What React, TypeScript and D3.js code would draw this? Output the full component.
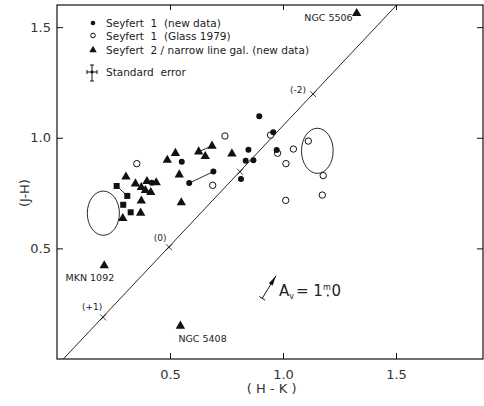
import React, { useRef, useEffect } from "react";
import * as d3 from "d3";

// (H-K), (J-H) pairs
const seyfert1New = [
  [0.895, 1.097], [0.957, 1.025], [0.972, 0.945], [0.847, 0.946],
  [0.835, 0.896], [0.869, 0.898], [0.552, 0.892], [0.692, 0.847],
  [0.585, 0.795], [0.814, 0.814], [0.419, 0.797],
];
// same sample, printed as filled squares
const seyfert1Squares = [
  [0.264, 0.782], [0.311, 0.737], [0.293, 0.697], [0.326, 0.663],
];
const seyfert1Glass = [
  [0.353, 0.883], [0.743, 1.008], [0.689, 0.785], [0.945, 1.012],
  [0.976, 0.93], [1.046, 0.949], [1.013, 0.883], [1.112, 0.985],
  [1.178, 0.829], [1.012, 0.717], [1.174, 0.741],
];
const seyfert2 = [
  [1.326, 1.562], [0.209, 0.422], [0.546, 0.149], [0.488, 0.899],
  [0.524, 0.93], [0.627, 0.937], [0.686, 0.963], [0.656, 0.916],
  [0.774, 0.928], [0.541, 0.833], [0.55, 0.707], [0.305, 0.823],
  [0.347, 0.792], [0.373, 0.776], [0.391, 0.762], [0.398, 0.803],
  [0.415, 0.753], [0.439, 0.797], [0.373, 0.715], [0.37, 0.66],
  [0.291, 0.636],
];
// connecting segments between repeated measurements
const links = [
  [0.264, 0.782, 0.311, 0.737],
  [0.585, 0.795, 0.692, 0.847],
  [0.627, 0.937, 0.686, 0.963],
];
// error ellipses: cx, cy, rx, ry
const ellipses = [
  [0.205, 0.659, 0.071, 0.1],
  [1.152, 0.941, 0.07, 0.102],
];
// named objects: x, y, label
const named = [
  [1.326, 1.562, "NGC 5506"],
  [0.209, 0.422, "MKN 1092"],
  [0.546, 0.149, "NGC 5408"],
];
// power-law line and its marks
const lineHK = [0.028, 1.503];
const lineJH = [0.0, 1.6];
const marksHK = [0.204, 0.496, 0.81, 1.133];
const marksJH = [0.188, 0.505, 0.846, 1.197];
const markLabels = ["(+1)", "(0)", "", "(-2)"];
// reddening vector Av = 1 mag
const avTail = [0.908, 0.274];
const avHead = [0.969, 0.376];

const tickValues = [0.5, 1.0, 1.5];

const W = 484;
const H = 406;
const margin = { top: 5, right: 1, bottom: 47, left: 57 };
const font = "DejaVu Sans, sans-serif";

const App = () => {
  const svgRef = useRef<SVGSVGElement>(null);

  useEffect(() => {
    const svg = d3.select(svgRef.current);
    svg.selectAll("*").remove();

    const width = W - margin.left - margin.right;
    const height = H - margin.top - margin.bottom;

    const x = d3.scaleLinear().domain([0, 1.885]).range([0, width]);
    const y = d3.scaleLinear().domain([0, 1.6]).range([height, 0]);

    const g = svg
      .append("g")
      .attr("transform", `translate(${margin.left},${margin.top})`);

    // frame
    g.append("rect")
      .attr("width", width)
      .attr("height", height)
      .attr("fill", "none")
      .attr("stroke", "#111")
      .attr("stroke-width", 1.2);

    // axes with inward ticks
    const styleAxis = (sel) => {
      sel.select(".domain").remove();
      sel.selectAll("line").attr("stroke", "#111");
      sel
        .selectAll("text")
        .attr("font-family", font)
        .attr("font-size", 13)
        .attr("fill", "#333");
    };
    g.append("g")
      .attr("transform", `translate(0,${height})`)
      .call(d3.axisBottom(x).tickValues(tickValues).tickSize(-6).tickPadding(11).tickFormat(d3.format(".1f")))
      .call(styleAxis);
    g.append("g")
      .call(d3.axisTop(x).tickValues(tickValues).tickSize(-5).tickFormat(() => ""))
      .call(styleAxis);
    g.append("g")
      .call(d3.axisLeft(y).tickValues(tickValues).tickSize(-6).tickPadding(6).tickFormat(d3.format(".1f")))
      .call(styleAxis);
    g.append("g")
      .attr("transform", `translate(${width},0)`)
      .call(d3.axisRight(y).tickValues(tickValues).tickSize(-6).tickFormat(() => ""))
      .call(styleAxis);

    // axis titles
    svg.append("text")
      .attr("x", margin.left + x(0.95))
      .attr("y", 393)
      .attr("text-anchor", "middle")
      .attr("font-family", font)
      .attr("font-size", 13)
      .attr("fill", "#333")
      .text("( H - K )");
    svg.append("text")
      .attr("transform", `translate(29,${margin.top + y(0.75)}) rotate(-90)`)
      .attr("text-anchor", "middle")
      .attr("font-family", font)
      .attr("font-size", 13)
      .attr("fill", "#333")
      .text("(J-H)");

    // power-law line
    g.append("line")
      .attr("x1", x(lineHK[0]))
      .attr("y1", y(lineJH[0]))
      .attr("x2", x(lineHK[1]))
      .attr("y2", y(lineJH[1]))
      .attr("stroke", "#111")
      .attr("stroke-width", 0.9);
    marksHK.forEach((hk, i) => {
      const cx = x(hk);
      const cy = y(marksJH[i]);
      g.append("path")
        .attr("d", `M${cx - 3},${cy - 3}L${cx + 3},${cy + 3}M${cx - 3},${cy + 3}L${cx + 3},${cy - 3}`)
        .attr("stroke", "#111")
        .attr("stroke-width", 0.8);
      if (markLabels[i]) {
        const off = i === 3 ? [-15, -1] : i === 1 ? [-9, -6] : [-11, -7];
        g.append("text")
          .attr("x", cx + off[0])
          .attr("y", cy + off[1])
          .attr("text-anchor", "middle")
          .attr("font-family", font)
          .attr("font-size", 9)
          .attr("fill", "#222")
          .text(markLabels[i]);
      }
    });

    // error ellipses
    ellipses.forEach(([cx, cy, rx, ry]) => {
      g.append("ellipse")
        .attr("cx", x(cx))
        .attr("cy", y(cy))
        .attr("rx", x(rx) - x(0))
        .attr("ry", y(0) - y(ry))
        .attr("fill", "none")
        .attr("stroke", "#111")
        .attr("stroke-width", 0.9);
    });

    // links
    g.selectAll(".link")
      .data(links)
      .join("line")
      .attr("x1", (d) => x(d[0]))
      .attr("y1", (d) => y(d[1]))
      .attr("x2", (d) => x(d[2]))
      .attr("y2", (d) => y(d[3]))
      .attr("stroke", "#111")
      .attr("stroke-width", 0.9);

    // markers
    const tri = d3.symbol(d3.symbolTriangle, 38);
    g.selectAll(".glass")
      .data(seyfert1Glass)
      .join("circle")
      .attr("cx", (d) => x(d[0]))
      .attr("cy", (d) => y(d[1]))
      .attr("r", 3.2)
      .attr("fill", "white")
      .attr("stroke", "#111")
      .attr("stroke-width", 1);
    g.selectAll(".sy1")
      .data(seyfert1New)
      .join("circle")
      .attr("cx", (d) => x(d[0]))
      .attr("cy", (d) => y(d[1]))
      .attr("r", 3)
      .attr("fill", "#111");
    g.selectAll(".sq")
      .data(seyfert1Squares)
      .join("rect")
      .attr("x", (d) => x(d[0]) - 3)
      .attr("y", (d) => y(d[1]) - 3)
      .attr("width", 6)
      .attr("height", 6)
      .attr("fill", "#111");
    g.selectAll(".sy2")
      .data(seyfert2)
      .join("path")
      .attr("d", tri)
      .attr("transform", (d) => `translate(${x(d[0])},${y(d[1])})`)
      .attr("fill", "#111");

    // labels for named objects
    named.forEach(([hk, jh, label], i) => {
      const px = x(hk);
      const py = y(jh);
      const pos = i === 0 ? [px - 4, py + 8, "end"] : i === 1 ? [px + 10, py + 15, "end"] : [px - 2, py + 16, "start"];
      g.append("text")
        .attr("x", pos[0])
        .attr("y", pos[1])
        .attr("text-anchor", pos[2])
        .attr("font-family", font)
        .attr("font-size", 9.5)
        .attr("fill", "#222")
        .text(label);
    });

    // reddening vector
    const tx = x(avTail[0]);
    const ty = y(avTail[1]);
    const hx = x(avHead[0]);
    const hy = y(avHead[1]);
    const ang = Math.atan2(hy - ty, hx - tx);
    const ux = Math.cos(ang);
    const uy = Math.sin(ang);
    g.append("line")
      .attr("x1", tx).attr("y1", ty).attr("x2", hx).attr("y2", hy)
      .attr("stroke", "#111").attr("stroke-width", 1);
    g.append("path")
      .attr("d", `M${hx},${hy}L${hx - 10 * ux - 2.2 * uy},${hy - 10 * uy + 2.2 * ux}L${hx - 10 * ux + 2.2 * uy},${hy - 10 * uy - 2.2 * ux}Z`)
      .attr("fill", "#111");
    g.append("line")
      .attr("x1", tx - 3.5 * uy).attr("y1", ty + 3.5 * ux)
      .attr("x2", tx + 3.5 * uy).attr("y2", ty - 3.5 * ux)
      .attr("stroke", "#111").attr("stroke-width", 1);
    const avY = ty - 2;
    const av = g.append("text")
      .attr("x", hx + 3)
      .attr("y", avY)
      .attr("font-family", font)
      .attr("font-size", 15)
      .attr("fill", "#222");
    av.append("tspan").text("A");
    av.append("tspan").attr("font-size", 8).attr("dy", 3).text("v");
    av.append("tspan").attr("dy", -3).attr("dx", 2).text("= 1");
    av.append("tspan").attr("font-size", 8).attr("dy", -6).text("m");
    const box = (av.node() as SVGTextElement).getBBox();
    const endX = box.x + box.width;
    // decimal point tucked under the "m"
    g.append("circle").attr("cx", endX - 3).attr("cy", avY - 1).attr("r", 1).attr("fill", "#222");
    g.append("text")
      .attr("x", endX + 0.5)
      .attr("y", avY)
      .attr("font-family", font)
      .attr("font-size", 15)
      .attr("fill", "#222")
      .text("0");

    // legend
    const lx = 93;
    const legend = [
      { y: 23, text: "Seyfert  1  (new data)", kind: "filled" },
      { y: 35.5, text: "Seyfert  1  (Glass 1979)", kind: "open" },
      { y: 50, text: "Seyfert  2 / narrow line gal. (new data)", kind: "tri" },
    ];
    legend.forEach((d) => {
      if (d.kind === "filled") {
        svg.append("circle").attr("cx", lx).attr("cy", d.y).attr("r", 2.3).attr("fill", "#111");
      } else if (d.kind === "open") {
        svg.append("circle").attr("cx", lx).attr("cy", d.y).attr("r", 2.3).attr("fill", "none").attr("stroke", "#111");
      } else {
        svg.append("path").attr("d", d3.symbol(d3.symbolTriangle, 24)()).attr("transform", `translate(${lx},${d.y})`).attr("fill", "#111");
      }
      svg.append("text")
        .attr("x", 106)
        .attr("y", d.y + 4)
        .attr("font-family", font)
        .attr("font-size", 10.5)
        .attr("fill", "#222")
        .style("white-space", "pre")
        .text(d.text);
    });
    // standard error symbol
    const ex = 92;
    const ey = 72;
    svg.append("path")
      .attr("d", `M${ex},${ey - 7}V${ey + 9}M${ex - 2},${ey - 7}H${ex + 2}M${ex - 2},${ey + 9}H${ex + 2}M${ex - 5},${ey}H${ex + 5}M${ex - 5},${ey - 2}V${ey + 2}M${ex + 5},${ey - 2}V${ey + 2}`)
      .attr("stroke", "#111")
      .attr("stroke-width", 1)
      .attr("fill", "none");
    svg.append("circle").attr("cx", ex).attr("cy", ey).attr("r", 1.5).attr("fill", "#111");
    svg.append("text")
      .attr("x", 106)
      .attr("y", ey + 4)
      .attr("font-family", font)
      .attr("font-size", 10.5)
      .attr("fill", "#222")
      .style("white-space", "pre")
      .text("Standard  error");
  }, []);

  return (
    <svg
      ref={svgRef}
      width={W}
      height={H}
      style={{ position: "absolute", left: 0, top: 0, background: "white" }}
    />
  );
};

export default App;
